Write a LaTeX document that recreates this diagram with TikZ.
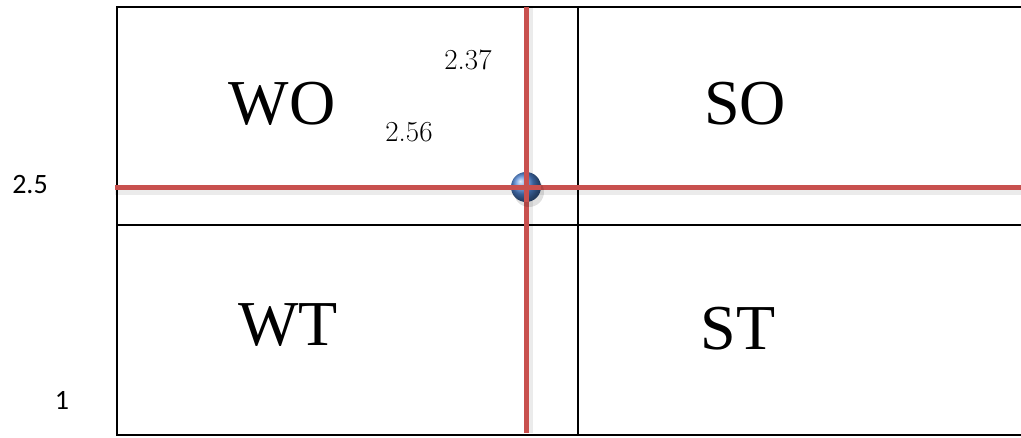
\documentclass[tikz,border=0pt]{standalone}
\usepackage{fontspec}
\setmainfont{Liberation Serif}
\newfontfamily\calib{Carlito}
\newfontfamily\lmfont{Latin Modern Roman}
\definecolor{redline}{RGB}{200,80,78}
\definecolor{ballblue}{RGB}{80,135,215}
\begin{document}
\begin{tikzpicture}[x=1pt,y=-1pt,
  frame/.style={line width=2pt,black},
  redl/.style={line width=5pt,redline},
  shadowl/.style={line width=6pt,black,opacity=0.08},
  quad/.style={font=\fontsize{64}{64}\selectfont,inner sep=0},
  val/.style={font=\lmfont\fontsize{29}{29}\selectfont,inner sep=0},
  axis/.style={font=\calib\fontsize{28}{28}\selectfont,inner sep=0}]
\useasboundingbox (0,0) rectangle (1021,437);
\fill[white] (0,0) rectangle (1021,437);
% frame
\coordinate (tl) at (117,7);
\coordinate (bl) at (117,435);
\coordinate (tr) at (1021,7);
\coordinate (br) at (1021,435);
\coordinate (ml) at (117,225);
\coordinate (mr) at (1021,225);
\coordinate (vt) at (578,7);
\coordinate (vb) at (578,435);
\draw[frame] (tr) -- (tl) -- (bl) -- (br);
\draw[frame] (ml) -- (mr);
\draw[frame] (vt) -- (vb);
% red lines with shadows
\coordinate (hl) at (115,187);
\coordinate (hr) at (1021,187);
\coordinate (rt) at (526,7);
\coordinate (rb) at (526,433);
\draw[shadowl] ([yshift=-5pt]hl) -- ([yshift=-5pt]hr);
\draw[shadowl] ([xshift=4pt]rt) -- ([xshift=4pt]rb);
\draw[redl] (hl) -- (hr);
\draw[redl] (rt) -- (rb);
% ball
\fill[black,opacity=0.12] (529,192) circle (15);
\shade[ball color=ballblue] (526,187) circle (15);
\draw[redl] (526,172) -- (526,202);
\draw[redl] (511,187) -- (541,187);
% labels
\node[quad] (wo) at (282,104) {WO};
\node[quad] (so) at (745,104) {SO};
\node[quad] (wt) at (288,325) {WT};
\node[quad] (st) at (738,329) {ST};
\node[val] (a) at (468,60) {2.37};
\node[val] (b) at (409,132) {2.56};
\node[axis] (y1) at (30,185) {2.5};
\node[axis] (y2) at (62,400) {1};
\end{tikzpicture}
\end{document}
